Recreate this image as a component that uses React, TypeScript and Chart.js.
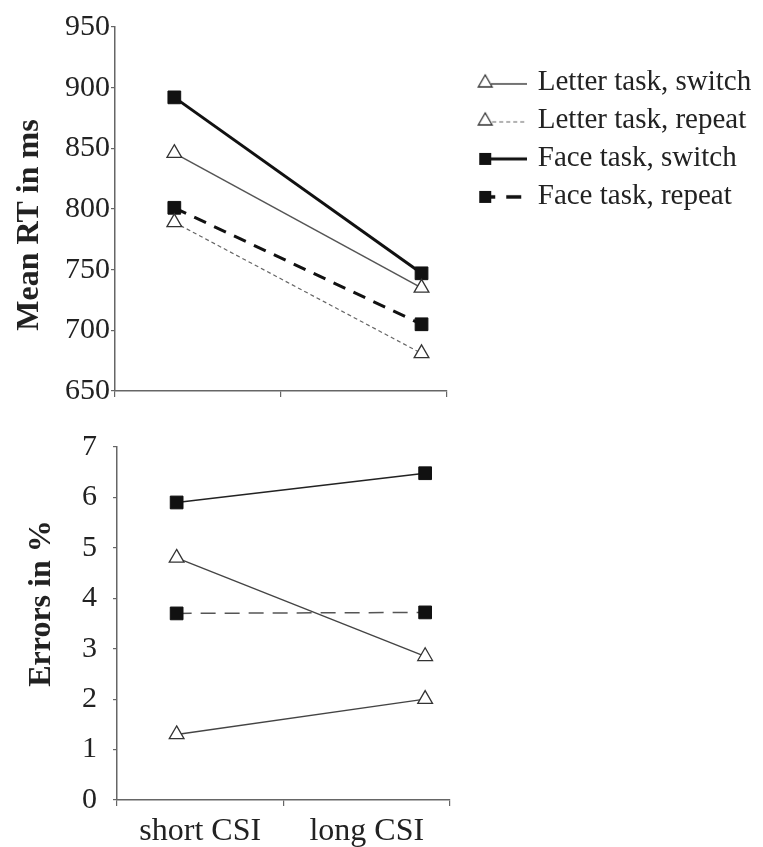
import React, { useEffect, useRef } from 'react';
import { Chart, registerables } from 'chart.js';

Chart.register(...registerables);

// Conditions on the x axis
const categories = ['short CSI', 'long CSI'];

// Series names (legend order)
const seriesNames = [
  'Letter task, switch',
  'Letter task, repeat',
  'Face task, switch',
  'Face task, repeat',
];

// Mean reaction times (ms)
const rtLetterSwitch = [846, 735];
const rtLetterRepeat = [789, 681];
const rtFaceSwitch = [892, 747];
const rtFaceRepeat = [801, 705];

// Error rates (%)
const errLetterSwitch = [4.8, 2.85];
const errLetterRepeat = [1.3, 2.0];
const errFaceSwitch = [5.9, 6.48];
const errFaceRepeat = [3.7, 3.72];

// Axis ticks
const rtTicks = [650, 700, 750, 800, 850, 900, 950];
const errTicks = [0, 1, 2, 3, 4, 5, 6, 7];

const SERIF = "'Liberation Serif', 'Times New Roman', serif";
const TEXT = '#222';
const AXIS = '#666';

const toPoints = (vals: number[]) => vals.map((y, i) => ({ x: i, y }));

// The layout caps a side legend at a fraction of the canvas width; let it
// run out to the canvas edge so the long labels are not clipped.
const legendSpan = {
  id: 'legendSpan',
  afterLayout(chart: any) {
    const l = chart.legend;
    if (l) {
      l.right = chart.width;
      l.width = l.right - l.left;
    }
  },
};

function makeIcon(draw: (c: CanvasRenderingContext2D) => void) {
  const cv = document.createElement('canvas');
  cv.width = 76;
  cv.height = 24;
  const c = cv.getContext('2d')!;
  draw(c);
  return cv;
}

function triangle(c: CanvasRenderingContext2D, cx: number, cy: number, r: number) {
  c.beginPath();
  c.moveTo(cx, cy - r);
  c.lineTo(cx + r * 0.866, cy + r / 2);
  c.lineTo(cx - r * 0.866, cy + r / 2);
  c.closePath();
  c.fillStyle = '#fff';
  c.fill();
  c.strokeStyle = '#333';
  c.lineWidth = 1.3;
  c.stroke();
}

function line(c: CanvasRenderingContext2D, x0: number, x1: number, y: number, w: number, color: string, dash: number[] = []) {
  c.beginPath();
  c.setLineDash(dash);
  c.moveTo(x0, y);
  c.lineTo(x1, y);
  c.strokeStyle = color;
  c.lineWidth = w;
  c.stroke();
  c.setLineDash([]);
}

function buildLegendIcons() {
  return [
    makeIcon((c) => {
      line(c, 40, 76, 14, 1.5, '#444');
      triangle(c, 34, 13, 8);
    }),
    makeIcon((c) => {
      line(c, 41, 76, 14, 1.2, '#666', [4, 3]);
      triangle(c, 34, 13, 8);
    }),
    makeIcon((c) => {
      c.fillStyle = '#111';
      c.fillRect(28, 7, 12, 12);
      line(c, 40, 76, 13, 3, '#111');
    }),
    makeIcon((c) => {
      c.fillStyle = '#111';
      c.fillRect(28, 7, 12, 12);
      line(c, 40, 44, 13, 3.5, '#111');
      line(c, 55, 70, 13, 3.5, '#111');
    }),
  ];
}

const triangleStyle = {
  pointStyle: 'triangle',
  pointRadius: 8.5,
  pointBackgroundColor: '#fff',
  pointBorderColor: '#333',
  pointBorderWidth: 1.3,
};

const squareStyle = {
  pointStyle: 'rect',
  pointRadius: 9,
  pointBackgroundColor: '#111',
  pointBorderColor: '#111',
  pointBorderWidth: 1,
};

function xScales(showLabels: boolean, pad: number) {
  return {
    xv: {
      type: 'linear',
      display: false,
      min: -0.24,
      max: 1.1,
    },
    x: {
      type: 'category',
      labels: categories,
      offset: true,
      grid: {
        offset: true,
        drawOnChartArea: false,
        drawTicks: true,
        tickLength: 6,
        color: AXIS,
        lineWidth: 1.2,
      },
      border: { color: AXIS, width: 1.5 },
      ticks: {
        display: showLabels,
        font: { family: SERIF, size: 32, lineHeight: 1 },
        color: TEXT,
        padding: pad,
        maxRotation: 0,
      },
    },
  };
}

function yScale(ticks: number[], title: string, tickPad: number, titlePad: number, width: number) {
  return {
    type: 'linear',
    position: 'left',
    min: ticks[0],
    max: ticks[ticks.length - 1],
    ticks: {
      stepSize: ticks[1] - ticks[0],
      font: { family: SERIF, size: 30 },
      color: TEXT,
      padding: tickPad,
    },
    grid: { drawOnChartArea: false, tickLength: 4, color: AXIS, lineWidth: 1.2 },
    border: { color: AXIS, width: 1.5 },
    title: {
      display: true,
      text: title,
      color: TEXT,
      font: { family: SERIF, size: 32, weight: 'bold' },
      padding: { top: titlePad, bottom: 0 },
    },
    afterFit: (s: any) => {
      s.width = width;
    },
  };
}

export default function App() {
  const topRef = useRef<HTMLCanvasElement>(null);
  const botRef = useRef<HTMLCanvasElement>(null);

  useEffect(() => {
    const icons = buildLegendIcons();

    const top = new Chart(topRef.current!, {
      type: 'line',
      data: {
        datasets: [
          {
            label: seriesNames[0],
            data: toPoints(rtLetterSwitch),
            borderColor: '#555',
            borderWidth: 1.5,
            ...triangleStyle,
          },
          {
            label: seriesNames[1],
            data: toPoints(rtLetterRepeat),
            borderColor: '#666',
            borderWidth: 1.2,
            borderDash: [4, 3],
            ...triangleStyle,
          },
          {
            label: seriesNames[2],
            data: toPoints(rtFaceSwitch),
            borderColor: '#111',
            borderWidth: 3,
            ...squareStyle,
          },
          {
            label: seriesNames[3],
            data: toPoints(rtFaceRepeat),
            borderColor: '#111',
            borderWidth: 3,
            borderDash: [13, 9],
            ...squareStyle,
          },
        ].map((d) => ({ ...d, xAxisID: 'xv', yAxisID: 'y', fill: false, tension: 0 })),
      },
      options: {
        responsive: false,
        animation: false,
        events: [],
        layout: { padding: { top: 27, bottom: 0, left: 0, right: 168 } },
        scales: {
          ...xScales(false, 3),
          y: yScale(rtTicks, 'Mean RT in ms    ', 1, 11, 115),
        },
        plugins: {
          tooltip: { enabled: false },
          legend: {
            display: true,
            position: 'right',
            align: 'start',
            title: { display: true, text: '', font: { size: 12 }, padding: { top: 17, bottom: 0 } },
            labels: {
              usePointStyle: true,
              pointStyleWidth: 68,
              padding: 9,
              color: TEXT,
              font: { family: SERIF, size: 29 },
              generateLabels: () =>
                seriesNames.map((text, i) => ({
                  text,
                  pointStyle: icons[i],
                  fillStyle: '#000',
                  strokeStyle: '#000',
                  lineWidth: 0,
                  hidden: false,
                  datasetIndex: i,
                  fontColor: TEXT,
                })),
            },
          },
        },
      } as any,
      plugins: [legendSpan],
    });

    const bot = new Chart(botRef.current!, {
      type: 'line',
      data: {
        datasets: [
          {
            label: seriesNames[0],
            data: toPoints(errLetterSwitch),
            borderColor: '#444',
            borderWidth: 1.4,
            ...triangleStyle,
          },
          {
            label: seriesNames[1],
            data: toPoints(errLetterRepeat),
            borderColor: '#444',
            borderWidth: 1.4,
            ...triangleStyle,
          },
          {
            label: seriesNames[2],
            data: toPoints(errFaceSwitch),
            borderColor: '#222',
            borderWidth: 1.6,
            ...squareStyle,
          },
          {
            label: seriesNames[3],
            data: toPoints(errFaceRepeat),
            borderColor: '#555',
            borderWidth: 1.5,
            borderDash: [15, 9],
            ...squareStyle,
          },
        ].map((d) => ({ ...d, xAxisID: 'xv', yAxisID: 'y', fill: false, tension: 0 })),
      },
      options: {
        responsive: false,
        animation: false,
        events: [],
        layout: { padding: { top: 47, bottom: 0, left: 0, right: 10 } },
        scales: {
          ...xScales(true, 10),
          y: yScale(errTicks, '     Errors in %', 16, 23, 117),
        },
        plugins: {
          tooltip: { enabled: false },
          legend: { display: false },
        },
      } as any,
    });

    return () => {
      top.destroy();
      bot.destroy();
    };
  }, []);

  return (
    <div
      style={{
        position: 'fixed',
        left: 0,
        top: 0,
        width: 763,
        height: 847,
        background: '#fff',
        overflow: 'hidden',
      }}
    >
      <canvas ref={topRef} width={763} height={410} style={{ position: 'absolute', left: 0, top: 0 }} />
      <canvas ref={botRef} width={460} height={458} style={{ position: 'absolute', left: 0, top: 400 }} />
    </div>
  );
}
